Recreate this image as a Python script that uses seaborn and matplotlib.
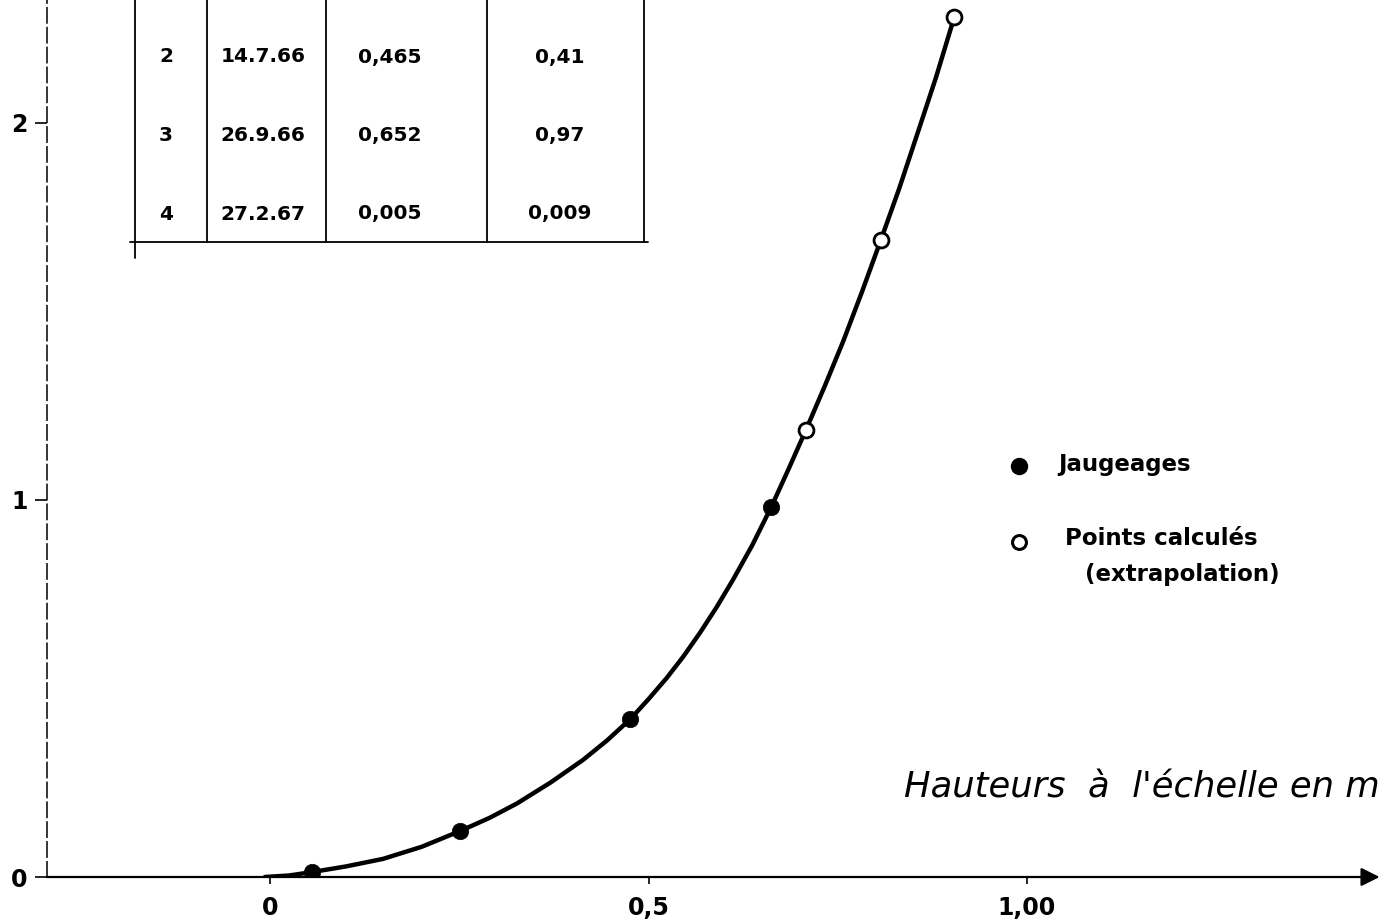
import matplotlib
matplotlib.use("Agg")
import matplotlib.pyplot as plt
from matplotlib.lines import Line2D
import seaborn as sns

# Gauged points (Jaugeages) : heights in m, discharge
jaug_h = [0.055, 0.251, 0.476, 0.662]
jaug_q = [0.013, 0.122, 0.419, 0.981]

# Computed points (extrapolation)
calc_h = [0.708, 0.807, 0.904]
calc_q = [1.186, 1.690, 2.281]

# Rating curve
curve_h = [-0.007, 0.025, 0.055, 0.100, 0.149, 0.200, 0.251, 0.290, 0.326,
           0.370, 0.413, 0.445, 0.476, 0.500, 0.524, 0.546, 0.568, 0.590,
           0.612, 0.637, 0.662, 0.685, 0.708, 0.733, 0.757, 0.782, 0.807,
           0.831, 0.855, 0.880, 0.904]
curve_q = [0.000, 0.004, 0.013, 0.028, 0.048, 0.080, 0.122, 0.157, 0.195,
           0.250, 0.310, 0.362, 0.419, 0.472, 0.528, 0.585, 0.648, 0.716,
           0.790, 0.880, 0.981, 1.082, 1.186, 1.303, 1.420, 1.552, 1.690,
           1.825, 1.970, 2.122, 2.281]

# Table of gaugings (top rows are cut off in the original)
table_num = ["2", "3", "4"]
table_date = ["14.7.66", "26.9.66", "27.2.67"]
table_h = ["0,465", "0,652", "0,005"]
table_q = ["0,41", "0,97", "0,009"]

xtick_vals = [0, 0.5, 1.0]
xtick_labels = ["0", "0,5", "1,00"]
ytick_vals = [0, 1, 2]
ytick_labels = ["0", "1", "2"]

W, H = 1397, 921

sns.set_style("white")
plt.rcParams["font.family"] = ["DejaVu Sans"]
plt.rcParams["text.color"] = "black"

fig = plt.figure(figsize=(W / 100, H / 100), dpi=100)
ax = fig.add_axes([47 / W, 44 / H, (W - 47) / W, 877 / H])


def fx(p):
    return p / W


def fy(p):
    return 1 - p / H


# curve and points
sns.lineplot(x=curve_h, y=curve_q, ax=ax, color="black", lw=3.2,
             sort=False, estimator=None, zorder=2,
             solid_joinstyle="round", solid_capstyle="round")
sns.scatterplot(x=jaug_h, y=jaug_q, ax=ax, s=140, color="black",
                edgecolor="black", linewidth=0.5, zorder=3)
sns.scatterplot(x=calc_h, y=calc_q, ax=ax, s=115, color="white",
                edgecolor="black", linewidth=2.0, zorder=3)

ax.set_xlim(-0.295, 1.489)
ax.set_ylim(0, 2.326)

# axes look
for side in ["top", "right", "bottom"]:
    ax.spines[side].set_visible(False)
ax.spines["left"].set_linewidth(1.1)
ax.spines["left"].set_color("black")
ax.spines["left"].set_linestyle((0, (10, 3)))
ax.annotate("", xy=(1.466, 0), xytext=(-0.295, 0),
            arrowprops=dict(arrowstyle="-|>", color="black", lw=1.6,
                            mutation_scale=28, shrinkA=0, shrinkB=0),
            annotation_clip=False, zorder=1)

ax.set_xticks(xtick_vals)
ax.set_xticklabels(xtick_labels)
ax.set_yticks(ytick_vals)
ax.set_yticklabels(ytick_labels)
ax.tick_params(axis="y", left=True, direction="out", length=9, width=1.2,
               pad=5, labelsize=17, colors="black")
ax.tick_params(axis="x", bottom=True, direction="out", length=5, width=1.2,
               pad=9, labelsize=17, colors="black")
for lab in ax.get_xticklabels() + ax.get_yticklabels():
    lab.set_fontweight("bold")
ax.set_xlabel("")
ax.set_ylabel("")

# axis caption
fig.text(fx(1380), fy(787), "Hauteurs  à  l'échelle en m", ha="right",
         va="center", style="italic", fontsize=25.5)

# table
for xp in [207, 326, 487, 644]:
    fig.add_artist(Line2D([fx(xp), fx(xp)], [fy(0), fy(242)],
                          color="black", lw=1.3))
fig.add_artist(Line2D([fx(135), fx(135)], [fy(0), fy(258)],
                      color="black", lw=1.3))
fig.add_artist(Line2D([fx(130), fx(648)], [fy(242), fy(242)],
                      color="black", lw=1.3))
row_y = [57, 135, 214]
for i, yp in enumerate(row_y):
    kw = dict(ha="center", va="center", fontsize=14.5, fontweight="bold")
    fig.text(fx(166), fy(yp), table_num[i], **kw)
    fig.text(fx(263), fy(yp), table_date[i], **kw)
    fig.text(fx(390), fy(yp), table_h[i], **kw)
    fig.text(fx(560), fy(yp), table_q[i], **kw)

# legend
fig.add_artist(Line2D([fx(1019)], [fy(466)], marker="o", markersize=11.5,
                      color="black", linestyle="none"))
fig.add_artist(Line2D([fx(1019)], [fy(542)], marker="o", markersize=10,
                      markerfacecolor="white", markeredgecolor="black",
                      markeredgewidth=2.2, linestyle="none"))
leg_kw = dict(ha="left", va="center", fontsize=16.5, fontweight="bold")
fig.text(fx(1058), fy(464), "Jaugeages", **leg_kw)
fig.text(fx(1065), fy(538), "Points calculés", **leg_kw)
fig.text(fx(1085), fy(574), "(extrapolation)", **leg_kw)

fig.savefig("out.png", dpi=100)
